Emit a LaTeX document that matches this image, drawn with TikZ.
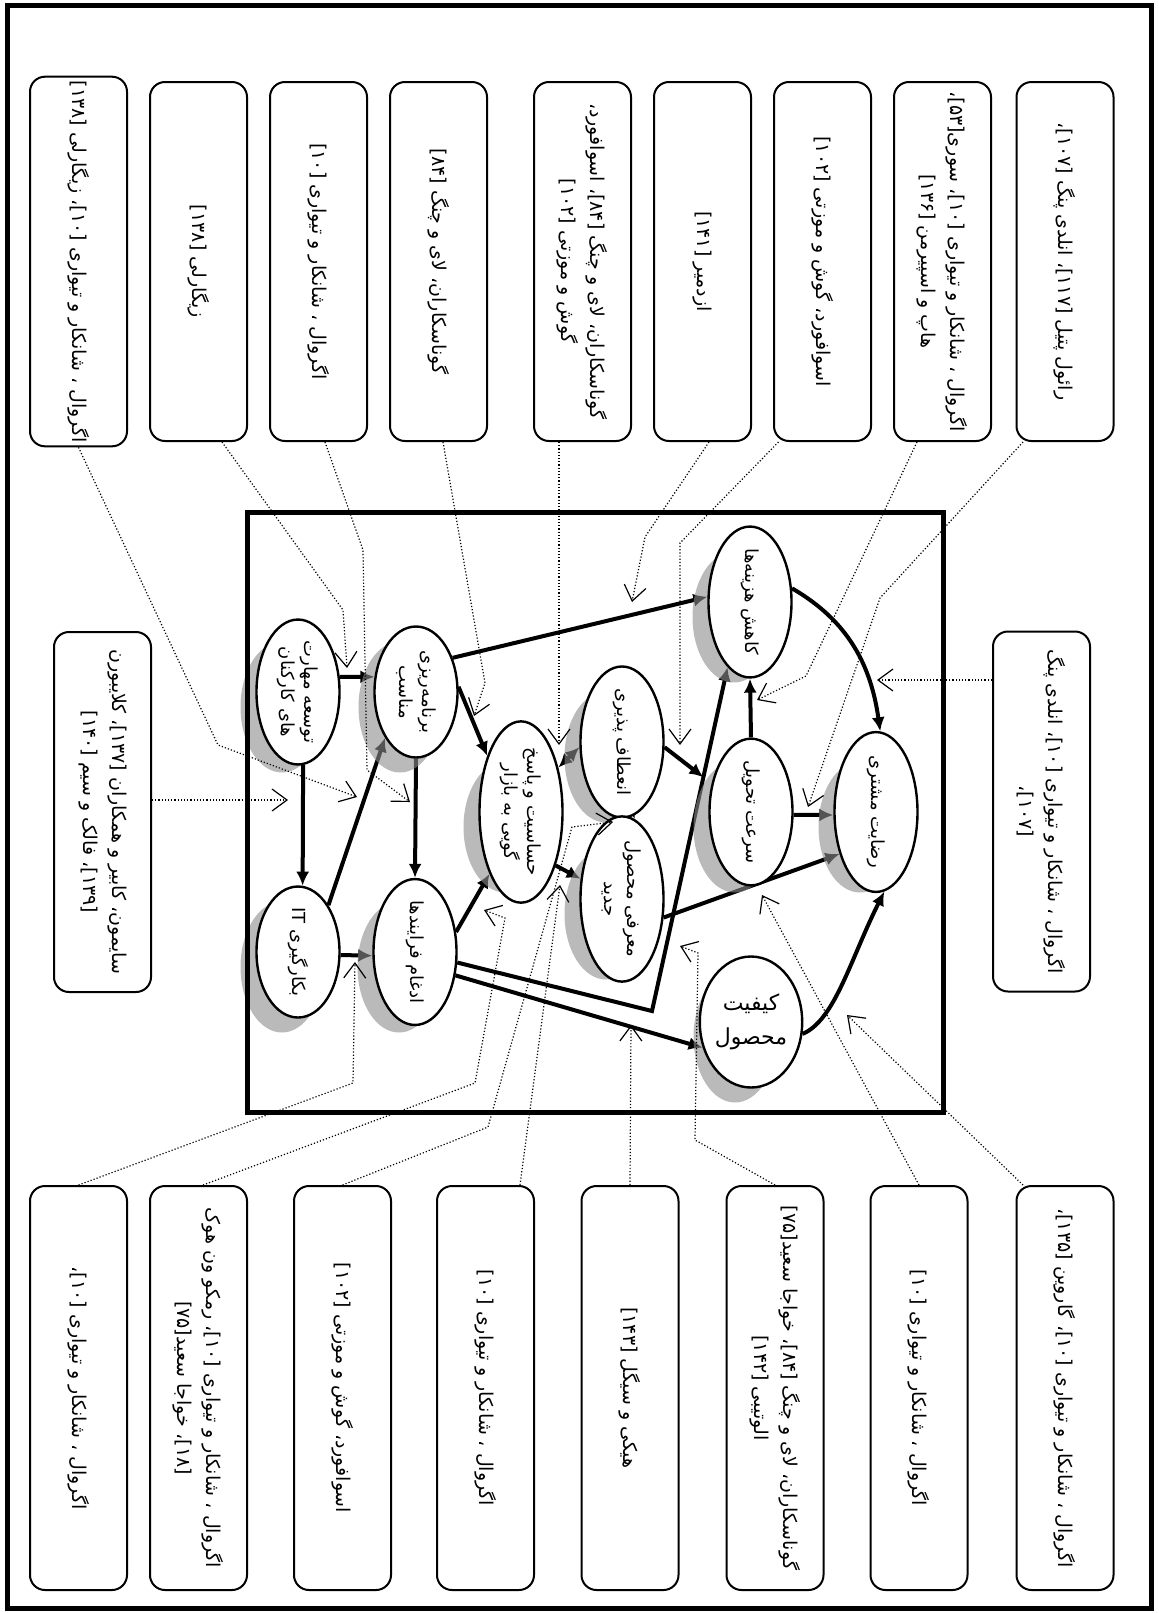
\documentclass[tikz,border=0pt]{standalone}
\usepackage{fontspec}
\usepackage{tikz}
\usetikzlibrary{shapes.geometric,arrows.meta,calc}
\newfontfamily\farsi[Script=Arabic]{DejaVu Sans}
\TeXXeTstate=1
\newcommand{\rl}[1]{\beginR#1\endR}
\pgfdeclarelayer{flowlayer}
\pgfdeclarelayer{shadowlayer}
\pgfsetlayers{flowlayer,shadowlayer,main}

\begin{document}
\begin{tikzpicture}[
    x=0.5pt, y=0.5pt, rotate=-90, transform shape,
    factor/.style={ellipse, draw, line width=1.2pt, fill=white, minimum width=65.5pt, minimum height=41.5pt, inner sep=0pt, align=center, font=\farsi\fontsize{9}{11.5}\selectfont},
    refbox/.style={rectangle, draw, line width=1pt, rounded corners=7.5pt, fill=white, minimum width=179.5pt, minimum height=48.5pt, inner sep=2pt, align=center, font=\farsi\fontsize{9.5}{14.5}\selectfont},
    lowbox/.style={refbox, minimum width=202pt},
    sidebox/.style={refbox, minimum width=180pt},
    flow/.style={line width=2pt, -{Latex[length=7pt,width=6.5pt]}},
    both/.style={line width=2pt, {Latex[length=7pt,width=6.5pt]}-{Latex[length=7pt,width=6.5pt]}},
    cite/.style={line width=0.6pt, dash pattern=on 0.6pt off 1pt, -{Straight Barb[length=7.5pt,width=11pt]}},
    ovalshadow/.style={fill=black!45, opacity=0.6},
]
    \useasboundingbox (0,0) rectangle (1613,1158);
    \draw[line width=2.5pt] (5,7) rectangle (1608,1151);
    \draw[line width=2.5pt] (512,247) rectangle (1112,943);

    % factors
    \node[factor] (tos) at (692,298) {\rl{توسعه مهارت}\\\rl{های کارکنان}};
    \node[factor] (bar) at (692,416) {\rl{برنامه‌ریزی}\\\rl{مناسب}};
    \node[factor] (bek) at (952,298) {\rl{بکارگیری IT}};
    \node[factor] (adg) at (952,415) {\rl{ادغام فرایندها}};
    \node[factor] (hsa) at (812,521) {\rl{حساسیت و پاسخ}\\\rl{گویی به بازار}};
    \node[factor] (ent) at (742,622) {\rl{انعطاف پذیری}};
    \node[factor] (mar) at (899,622) {\rl{معرفی محصول}\\\rl{جدید}};
    \node[factor] (kah) at (602,750) {\rl{کاهش هزینه‌ها}};
    \node[factor] (sor) at (812,751) {\rl{سرعت تحویل}};
    \node[factor, rotate=90, minimum width=41.5pt, minimum height=65.5pt, font=\farsi\fontsize{11}{17}\selectfont] (kif) at (1022,751) {\rl{کیفیت}\\\rl{محصول}};
    \node[factor] (rez) at (812,876) {\rl{رضایت مشتری}};

    \coordinate (bend) at (1011,652);
    \coordinate (jn) at ($(bend)!0.68!(kah.341)$);

    \begin{pgfonlayer}{shadowlayer}
        \foreach \n in {tos,bar,bek,adg,hsa,ent,mar,kah,sor,kif,rez}
            \fill[ovalshadow] ($(\n.center)+(15,-16)$) ellipse [x radius=65.5, y radius=41.5];
    \end{pgfonlayer}

    \begin{pgfonlayer}{flowlayer}
        \draw[flow] (tos.110) -- (bar.250);
        \draw[flow] (tos.4) -- (bek.176);
        \draw[flow] (bar.east) -- (adg.west);
        \draw[flow] (bek.147) -- (bar.326);
        \draw[flow] (bek.86) -- (adg.275);
        \draw[flow] (bar.97) -- (hsa.211);
        \draw[flow] (bar.133) -- (kah.263);
        \draw[flow] (adg.116) -- (hsa.333);
        \draw[flow] (adg.60) -- (kif.208);
        \draw[flow] (adg.76) -- (bend) -- (kah.341);
        \draw[flow] (ent.83) -- (jn);
        \draw[flow] (sor.west) -- (kah.east);
        \draw[flow] (sor.86) -- (rez.274);
        \draw[flow] (mar.66) -- (rez.319);
        \draw[flow] (kah.108) to[out=60, in=188] (rez.177);
        \draw[flow] (kif.347) .. controls (1020,835) and (960,850) .. (rez.6);
        \draw[flow] (hsa.33) -- (mar.244);
        \draw[both] (hsa.140) -- (ent.277);
        \draw[both] (ent.9) -- (mar.171);
    \end{pgfonlayer}

    % sources above
    \node[refbox] (b1) at (261.5,78.5) {\rl{اگروال ، شانکار و تیواری [۱۰]، زیگارلی [۱۳۸]}};
    \node[refbox] (b2) at (261.5,198.5) {\rl{زیگارلی [۱۳۸]}};
    \node[refbox] (b3) at (261.5,318.5) {\rl{اگروال ، شانکار و تیواری [۱۰]}};
    \node[refbox] (b4) at (261.5,438.5) {\rl{گوناسکاران، لای و چنگ [۸۴]}};
    \node[refbox] (b5) at (261.5,582.5) {\rl{گوناسکاران، لای و چنگ [۸۴]، اسوافورد،}\\\rl{گوش و موزتی [۱۰۲]}};
    \node[refbox] (b6) at (261.5,702.5) {\rl{ازدمیر [۱۴۱]}};
    \node[refbox] (b7) at (261.5,822.5) {\rl{اسوافورد، گوش و موزتی [۱۰۲]}};
    \node[refbox] (b8) at (261.5,942.5) {\rl{اگروال ، شانکار و تیواری [۱۰]، سوری[۵۳]،}\\\rl{هاپ و اسپیرمن [۱۳۶]}};
    \node[refbox] (b9) at (261.5,1065) {\rl{رائول پتیل [۱۱۷]، انلدی پنگ [۱۰۷]،}};

    % sources at the sides
    \node[sidebox] (lbox) at (812,102.5) {\rl{سایمون، کابیر و همکاران [۱۳۷]، کلایبورن}\\\rl{[۱۳۹]، فالک و سیم [۱۴۰]}};
    \node[sidebox] (rbox) at (811.5,1041.5) {\rl{اگروال ، شانکار و تیواری [۱۰]، انلدی پنگ}\\\rl{[۱۰۷]،}};

    % sources below
    \node[lowbox] (bb1) at (1388,78.5) {\rl{اگروال ، شانکار و تیواری [۱۰]،}};
    \node[lowbox] (bb2) at (1388,198.5) {\rl{اگروال ، شانکار و تیواری [۱۰]، رمکو ون هوک}\\\rl{[۱۸]، خواجا سعید[۷۵]}};
    \node[lowbox] (bb3) at (1388,342.5) {\rl{اسوافورد، گوش و موزتی [۱۰۲]}};
    \node[lowbox] (bb4) at (1388,485.5) {\rl{اگروال ، شانکار و تیواری [۱۰]}};
    \node[lowbox] (bb5) at (1388,630) {\rl{هیکی و سیگل [۱۴۳]}};
    \node[lowbox] (bb6) at (1388,775) {\rl{گوناسکاران، لای و چنگ [۸۴]، خواجا سعید[۷۵]}\\\rl{الوتیبی [۱۴۲]}};
    \node[lowbox] (bb7) at (1388,919) {\rl{اگروال ، شانکار و تیواری [۱۰]}};
    \node[lowbox] (bb8) at (1388,1065) {\rl{اگروال ، شانکار و تیواری [۱۰]، گاروین [۱۳۵]،}};

    % tips of the citations
    \coordinate (b1tip) at (797,357);
    \coordinate (b2tip) at (668,347);
    \coordinate (b3tip) at (802,410);
    \coordinate (b4tip) at (716,474);
    \coordinate (b5tip) at (745,559);
    \coordinate (b6tip) at (602,632);
    \coordinate (b7tip) at (745,680);
    \coordinate (b8tip) at (700,757);
    \coordinate (b9tip) at (807,808);
    \coordinate (ltip) at (800,288);
    \coordinate (rtip) at (680,877);
    \coordinate (bb1tip) at (962,355);
    \coordinate (bb2tip) at (910,484);
    \coordinate (bb3tip) at (822,613);
    \coordinate (bb4tip) at (885,560);
    \coordinate (bb5tip) at (1025,631);
    \coordinate (bb6tip) at (946,680);
    \coordinate (bb7tip) at (895,762);
    \coordinate (bb8tip) at (1015,847);

    \draw[cite] (b1.east) -- (745,218) -- (b1tip);
    \draw[cite] ($(b2.east)+(0,23.5)$) -- (610,343) -- (b2tip);
    \draw[cite] ($(b3.east)+(0,6.5)$) -- (550,363) -- (770,367) -- (b3tip);
    \draw[cite] ($(b4.east)+(0,4.5)$) -- (683,485) -- (b4tip);
    \draw[cite] ($(b5.east)+(0,-23.5)$) -- (b5tip);
    \draw[cite] ($(b6.east)+(0,6.5)$) -- (537,645) -- (b6tip);
    \draw[cite] ($(b7.east)+(0,-44)$) -- (543,680) -- (b7tip);
    \draw[cite] ($(b8.east)+(0,-25.5)$) -- (676,806) -- (b8tip);
    \draw[cite] ($(b9.east)+(0,-42)$) -- (598,880) -- (b9tip);
    \draw[cite] ($(lbox.north)+(-12,0)$) -- (ltip);
    \draw[cite] ($(rbox.south)+(-131.5,0)$) -- (rtip);
    \draw[cite] (bb1.west) -- (1083,353) -- (bb1tip);
    \draw[cite] ($(bb2.west)+(0,4.5)$) -- (1083,475) -- (918,505) -- (bb2tip);
    \draw[cite] (bb3.west) -- (1127,488) -- (827,572) -- (bb3tip);
    \draw[cite] ($(bb4.west)+(0,34.5)$) -- (bb4tip);
    \draw[cite] (bb5.west) -- (bb5tip);
    \draw[cite] (bb6.west) -- (1140,695) -- (953,698) -- (bb6tip);
    \draw[cite] (bb7.west) -- (bb7tip);
    \draw[cite] ($(bb8.west)+(0,-42)$) -- (bb8tip);
\end{tikzpicture}
\end{document}
